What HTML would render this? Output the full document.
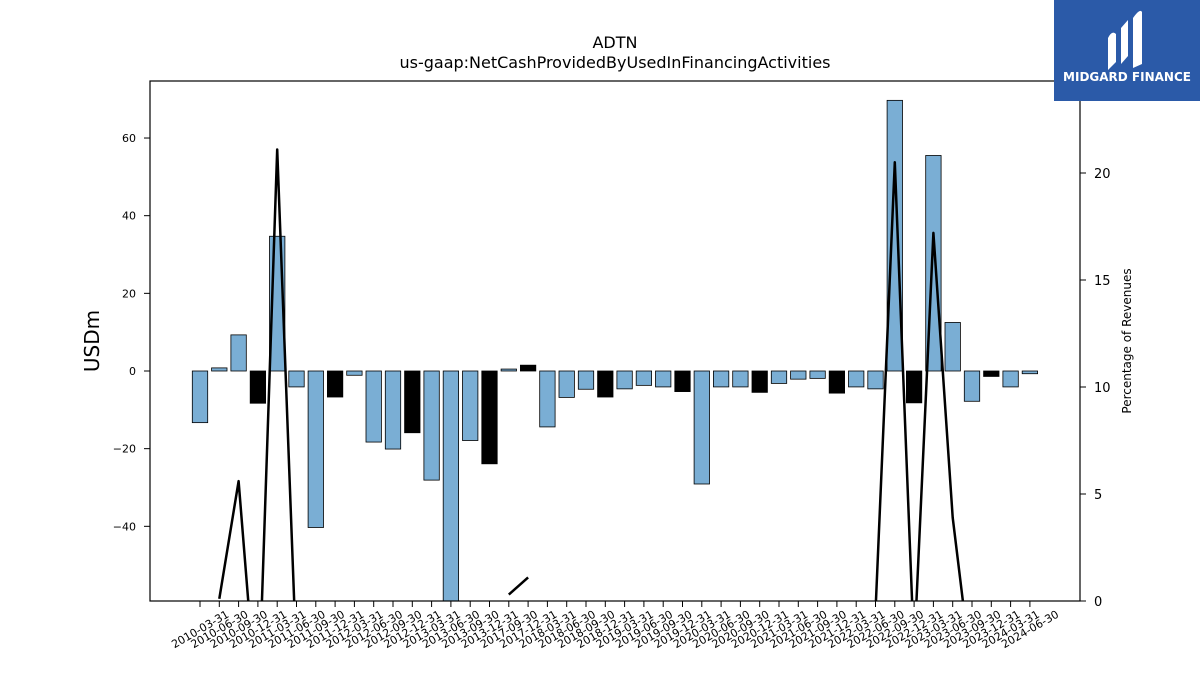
<!DOCTYPE html>
<html><head><meta charset="utf-8"><style>
html,body{margin:0;padding:0;background:#fff;width:1200px;height:675px;overflow:hidden;font-family:"Liberation Sans","DejaVu Sans",sans-serif}
svg{display:block}
svg text{font-family:"DejaVu Sans","Liberation Sans",sans-serif}
</style></head><body>
<svg id="chart" width="1200" height="675" viewBox="0 0 1200 675" xmlns="http://www.w3.org/2000/svg">
<defs><clipPath id="plotclip"><rect x="150" y="81" width="930" height="520"/></clipPath></defs>
<text x="615" y="48" font-size="16" text-anchor="middle">ADTN</text>
<text x="615" y="68" font-size="16" text-anchor="middle">us-gaap:NetCashProvidedByUsedInFinancingActivities</text>
<g id="bars" clip-path="url(#plotclip)"></g>
<g id="line" clip-path="url(#plotclip)"></g>
<rect x="150" y="81" width="930" height="520" fill="none" stroke="#000" stroke-width="1.2"/>
<g id="axes"></g>
<text transform="translate(99,341) rotate(-90)" font-size="20" text-anchor="middle">USDm</text>
<text transform="translate(1131,341) rotate(-90)" font-size="12" text-anchor="middle">Percentage of Revenues</text>
<g>
<rect x="1054" y="0" width="146" height="101" fill="#2b5aa8"/>
<path d="M1108 70 L1108 38 Q1112 30 1116 34 L1116 62 Z M1121 64 L1121 28 L1128 20 L1128 56 Z M1133 68 L1133 18 Q1140 8 1142 12 L1142 64 Z" fill="#fff"/>
<text x="1127" y="81" font-size="12" font-weight="bold" fill="#fff" text-anchor="middle">MIDGARD FINANCE</text>
</g>
</svg>
<script>
const categories=["2010-03-31","2010-06-30","2010-09-30","2010-12-31","2011-03-31","2011-06-30","2011-09-30","2011-12-31","2012-03-31","2012-06-30","2012-09-30","2012-12-31","2013-03-31","2013-06-30","2013-09-30","2013-12-31","2017-09-30","2017-12-31","2018-03-31","2018-06-30","2018-09-30","2018-12-31","2019-03-31","2019-06-30","2019-09-30","2019-12-31","2020-03-31","2020-06-30","2020-09-30","2020-12-31","2021-03-31","2021-06-30","2021-09-30","2021-12-31","2022-03-31","2022-06-30","2022-09-30","2022-12-31","2023-03-31","2023-06-30","2023-09-30","2023-12-31","2024-03-31","2024-06-30"];
const cashValues=[-13.3,0.8,9.3,-8.3,34.7,-4.1,-40.3,-6.7,-1.1,-18.3,-20.1,-15.9,-28.1,-62,-17.9,-23.9,0.5,1.5,-14.4,-6.8,-4.7,-6.7,-4.6,-3.7,-4.1,-5.3,-29.1,-4.1,-4.1,-5.5,-3.2,-2.1,-1.9,-5.7,-4.1,-4.6,69.7,-8.2,55.5,12.5,-7.8,-1.4,-4.1,-0.7];
const pctValues=[null,0.1,5.6,-5.6,21.1,-2.9,null,null,null,null,null,null,null,null,null,null,0.3,1.1,null,null,null,null,null,null,null,null,null,null,null,null,null,null,null,null,null,-0.5,20.5,-2.4,17.2,3.9,-3.5,null,null,null];
const leftTicks=[-40,-20,0,20,40,60];
const rightTicks=[0,5,10,15,20];
const NS="http://www.w3.org/2000/svg";
const x0=200,step=19.3,bw=15.4;
function xs(i){return x0+i*step;}
function yL(v){return 371-v*3.883;}
function yR(v){return 601-v*21.4;}
function mk(tag,attrs,parent){const e=document.createElementNS(NS,tag);for(const k in attrs)e.setAttribute(k,attrs[k]);parent.appendChild(e);return e;}
const bars=document.getElementById('bars'),line=document.getElementById('line'),axes=document.getElementById('axes');
cashValues.forEach((v,i)=>{
 const q4=categories[i].endsWith('12-31');
 const r=mk('rect',{x:xs(i)-bw/2,y:Math.min(yL(v),yL(0)),width:bw,height:Math.abs(yL(v)-yL(0)),fill:q4?'#000':'#7aaed4',stroke:'#000','stroke-width':0.8},bars);
 
 
});
let d='',pen=false;
pctValues.forEach((v,i)=>{
 if(v===null){pen=false;return;}
 d+=(pen?'L':'M')+xs(i)+' '+yR(v)+' ';pen=true;
});
const p=mk('path',{d:d,fill:'none',stroke:'#000','stroke-width':2.5,'stroke-linejoin':'round'},line);


categories.forEach((c,i)=>{
 const x=xs(i);
 const t=mk('line',{x1:x,x2:x,y1:601,y2:607,stroke:'#000','stroke-width':1},axes);
 
 
 const l=mk('text',{transform:`translate(${x},${629}) rotate(-30)`,'font-size':11,'text-anchor':'middle',y:4},axes);
 
 
 l.textContent=c;
});
leftTicks.forEach(v=>{
 const y=yL(v);
 const t=mk('line',{x1:144,x2:150,y1:y,y2:y,stroke:'#000'},axes);
 
 
 const l=mk('text',{x:136,y:y+4,'font-size':11,'text-anchor':'end'},axes);
 
 
 l.textContent=v<0?'\u2212'+Math.abs(v):String(v);
});
rightTicks.forEach(v=>{
 const y=yR(v);
 const t=mk('line',{x1:1080,x2:1086,y1:y,y2:y,stroke:'#000'},axes);
 
 
 const l=mk('text',{x:1094,y:y+5,'font-size':13},axes);
 
 
 l.textContent=String(v);
});
</script>
</body></html>
